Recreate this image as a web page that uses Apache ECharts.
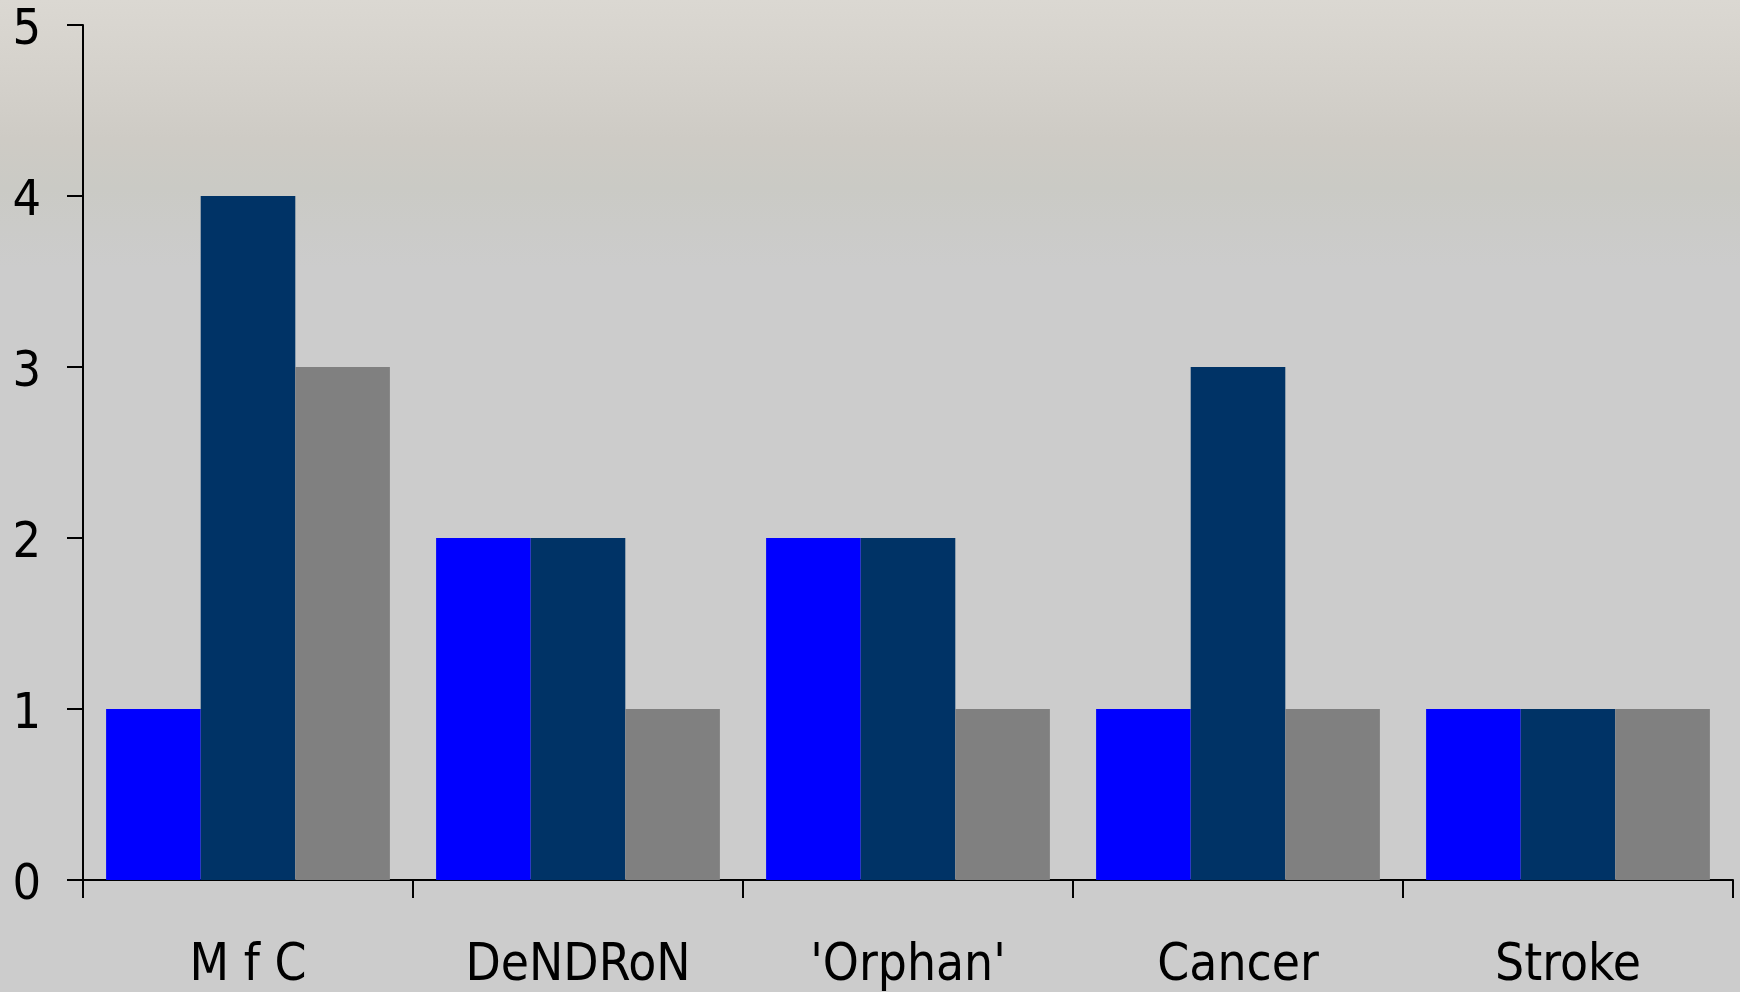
<!DOCTYPE html>
<html>
<head>
<meta charset="utf-8">
<script src="https://cdn.jsdelivr.net/npm/echarts@6/dist/echarts.min.js"></script>
<style>
html,body{margin:0;padding:0;background:#cccccc;}
#chart{width:1740px;height:992px;}
</style>
</head>
<body>
<div id="chart"></div>
<script>
const categories = ["M f C", "DeNDRoN", "'Orphan'", "Cancer", "Stroke"];
const series1 = [1, 2, 2, 1, 1];
const series2 = [4, 2, 2, 3, 1];
const series3 = [3, 1, 1, 1, 1];
const seriesNames = ["Series 1", "Series 2", "Series 3"];
const seriesColors = ["#0000ff", "#003366", "#808080"];

const FONT = "'Liberation Sans Narrow', 'DejaVu Sans Condensed', 'Liberation Sans', sans-serif";
const chart = echarts.init(document.getElementById('chart'));
chart.setOption({
  animation: false,
  backgroundColor: {
    type: 'linear', x: 0, y: 0, x2: 0, y2: 1,
    colorStops: [
      {offset: 0, color: '#dbd8d2'},
      {offset: 0.08, color: '#d4d1cb'},
      {offset: 0.14, color: '#cecbc5'},
      {offset: 0.19, color: '#cacac5'},
      {offset: 0.27, color: '#cccccc'},
      {offset: 1, color: '#cccccc'}
    ]
  },
  grid: {left: 83, right: 7, top: 25, bottom: 110, containLabel: false},
  xAxis: {
    type: 'category',
    data: categories,
    axisLine: {lineStyle: {color: '#000', width: 2}},
    axisTick: {show: true, length: 18, lineStyle: {color: '#000', width: 2}},
    axisLabel: {color: '#000', fontSize: 51, fontFamily: FONT, margin: 61}
  },
  yAxis: {
    type: 'value', min: 0, max: 5, interval: 1,
    splitLine: {show: false},
    axisLine: {show: true, lineStyle: {color: '#000', width: 2}},
    axisTick: {show: true, length: 16, lineStyle: {color: '#000', width: 2}},
    axisLabel: {
      color: '#000', fontSize: 50, fontFamily: FONT, margin: 42,
      formatter: v => '{a|' + v + '}',
      rich: {a: {color: '#000', fontSize: 50, fontFamily: FONT, padding: [12, 0, 0, 0]}}
    }
  },
  series: [series1, series2, series3].map((d, i) => ({
    type: 'bar',
    name: seriesNames[i],
    data: d,
    barGap: '0%',
    barCategoryGap: '14%',
    itemStyle: {color: seriesColors[i]}
  }))
});
</script>
</body>
</html>
